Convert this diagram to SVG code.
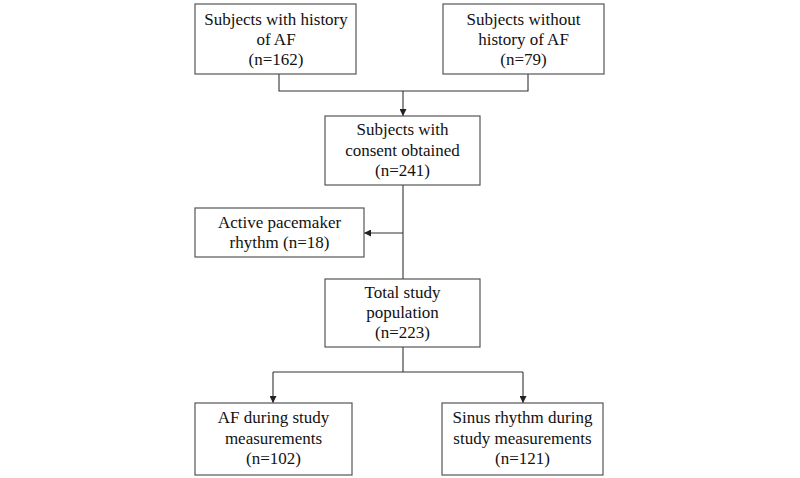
<svg xmlns="http://www.w3.org/2000/svg" width="800" height="478" viewBox="0 0 800 478">
<style>
.box{fill:#fff;stroke:#555;stroke-width:1.2}
.t{font-family:"Liberation Serif","Times New Roman",serif;font-size:17px;fill:#111;text-anchor:middle}
.c{fill:none;stroke:#333;stroke-width:1.1}
</style>
<defs>
<marker id="ah" viewBox="0 0 10 10" refX="10" refY="5" markerWidth="7" markerHeight="7" markerUnits="userSpaceOnUse" orient="auto">
<path d="M0,0 L10,5 L0,10 z" fill="#222"/>
</marker>
</defs>
<rect width="800" height="478" fill="#fff"/>
<g id="connectors">
<path class="c" d="M279,74 V91 H528 V74"/>
<path class="c" d="M403,91 V116" marker-end="url(#ah)"/>
<path class="c" d="M403,185 V279"/>
<path class="c" d="M403,233 H364" marker-end="url(#ah)"/>
<path class="c" d="M403,347 V372"/>
<path class="c" d="M273,372 H523"/>
<path class="c" d="M273,372 V403" marker-end="url(#ah)"/>
<path class="c" d="M523,372 V403" marker-end="url(#ah)"/>
</g>
<g id="n1">
<rect class="box" x="195" y="4" width="161" height="70"/>
<text class="t" x="276" y="25">Subjects with history</text>
<text class="t" x="276" y="45">of AF</text>
<text class="t" x="276" y="65">(n=162)</text>
</g>
<g id="n2">
<rect class="box" x="443" y="4" width="161" height="70"/>
<text class="t" x="523.5" y="25">Subjects without</text>
<text class="t" x="523.5" y="45">history of AF</text>
<text class="t" x="523.5" y="65">(n=79)</text>
</g>
<g id="n3">
<rect class="box" x="325" y="116" width="155" height="69"/>
<text class="t" x="402.5" y="135">Subjects with</text>
<text class="t" x="402.5" y="156">consent obtained</text>
<text class="t" x="402.5" y="176">(n=241)</text>
</g>
<g id="n4">
<rect class="box" x="195" y="208" width="169" height="49"/>
<text class="t" x="279.5" y="228">Active pacemaker</text>
<text class="t" x="279.5" y="248">rhythm (n=18)</text>
</g>
<g id="n5">
<rect class="box" x="325" y="279" width="155" height="68"/>
<text class="t" x="402.5" y="298">Total study</text>
<text class="t" x="402.5" y="318">population</text>
<text class="t" x="402.5" y="338">(n=223)</text>
</g>
<g id="n6">
<rect class="box" x="195" y="403" width="157" height="72"/>
<text class="t" x="273.5" y="423">AF during study</text>
<text class="t" x="273.5" y="444">measurements</text>
<text class="t" x="273.5" y="464">(n=102)</text>
</g>
<g id="n7">
<rect class="box" x="442" y="403" width="161" height="72"/>
<text class="t" x="522.5" y="423">Sinus rhythm during</text>
<text class="t" x="522.5" y="444">study measurements</text>
<text class="t" x="522.5" y="464">(n=121)</text>
</g>
</svg>
